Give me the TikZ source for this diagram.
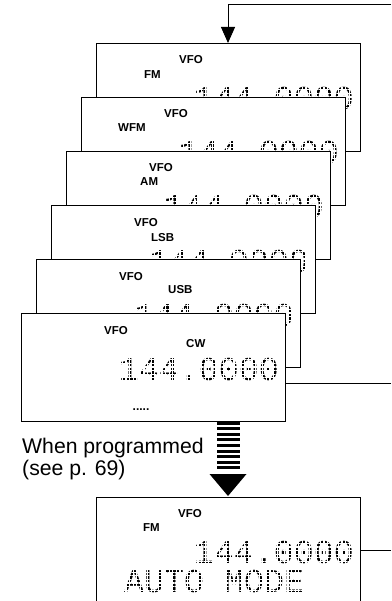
\documentclass[tikz,border=0pt]{standalone}
\usepackage{fontspec}
\setmainfont{Liberation Sans}
\newfontfamily\lcdfont{Liberation Mono}
\usetikzlibrary{arrows.meta,calc,patterns.meta}
\begin{document}
\begin{tikzpicture}[x=1pt,y=-1pt,
  panel/.style={draw, fill=white, line width=0.9pt, minimum width=264pt, minimum height=108pt, inner sep=0pt, outer sep=0pt},
  lbl/.style={font=\fontsize{11.5}{12}\selectfont\bfseries, inner sep=0pt, anchor=base west},
  lcd/.style={font=\fontsize{33.3}{34}\lcdfont, inner sep=0pt, text=black},
  dotgrid/.style={pattern={Lines[angle=0,distance=3.6pt,line width=1.1pt]}, pattern color=white},
  dotgridv/.style={pattern={Lines[angle=90,distance=3.6pt,line width=1.1pt]}, pattern color=white},
  conn/.style={line width=0.9pt},
  txt/.style={font=\fontsize{21.2}{22}\selectfont, inner sep=0pt, anchor=base west}]
\newcommand\dotify[1]{%
  \fill[dotgrid] (#1.south west) rectangle (#1.north east);
  \fill[dotgridv] (#1.south west) rectangle (#1.north east);}
\useasboundingbox (0,0) rectangle (391,601);
\clip (0,0) rectangle (391,601);

% stacked panels, back to front
\node[panel] (p1) at (228,97) {};
\node[lbl] (v1) at ($(p1.north west)+(83,21)$) {VFO};
\node[lbl] (m1) at ($(p1.north west)+(48,36)$) {FM};
\node[lcd, anchor=base east] (d1) at ($(p1.north east)+(-6,67)$) {144.0000};
\dotify{d1}

\node[panel] (p2) at (213,151) {};
\node[lbl] (v2) at ($(p2.north west)+(83,21)$) {VFO};
\node[lbl] (m2) at ($(p2.north west)+(37,35)$) {WFM};
\node[lcd, anchor=base east] (d2) at ($(p2.north east)+(-6,67)$) {144.0000};
\dotify{d2}

\node[panel] (p3) at (198,205) {};
\node[lbl] (v3) at ($(p3.north west)+(83,21)$) {VFO};
\node[lbl] (m3) at ($(p3.north west)+(74,35)$) {AM};
\node[lcd, anchor=base east] (d3) at ($(p3.north east)+(-6,67)$) {144.0000};
\dotify{d3}

\node[panel] (p4) at (183,259) {};
\node[lbl] (v4) at ($(p4.north west)+(83,21)$) {VFO};
\node[lbl] (m4) at ($(p4.north west)+(100,36)$) {LSB};
\node[lcd, anchor=base east] (d4) at ($(p4.north east)+(-6,67)$) {144.0000};
\dotify{d4}

\node[panel] (p5) at (168,313) {};
\node[lbl] (v5) at ($(p5.north west)+(83,21)$) {VFO};
\node[lbl] (m5) at ($(p5.north west)+(132,34)$) {USB};
\node[lcd, anchor=base east] (d5) at ($(p5.north east)+(-6,67)$) {144.0000};
\dotify{d5}

\node[panel] (p6) at (153,367) {};
\node[lbl] (v6) at ($(p6.north west)+(83,21)$) {VFO};
\node[lbl] (m6) at ($(p6.north west)+(165,34)$) {CW};
\node[lcd, anchor=base east] (d6) at ($(p6.north east)+(-6,67)$) {144.0000};
\dotify{d6}
\node[font=\fontsize{12}{12}\selectfont\bfseries, inner sep=0pt, anchor=base] (dots) at ($(p6.north west)+(120,97)$) {.....};

% bottom panel
\node[panel, minimum height=130pt] (p7) at (228,562) {};
\node[lbl] (v7) at ($(p7.north west)+(82,20)$) {VFO};
\node[lbl] (m7) at ($(p7.north west)+(47,34)$) {FM};
\node[lcd, anchor=base east] (d7) at ($(p7.north east)+(-6,66)$) {144.0000};
\dotify{d7}
\node[lcd, anchor=base west] (a7) at ($(p7.north west)+(28,95)$) {AUTO MODE};
\dotify{a7}

% connectors
\coordinate (inR) at (391,4);
\draw[conn, -{Triangle[width=14pt,length=16pt]}] (inR) -| (p1.north);
\coordinate (cwR) at (391,383);
\draw[conn] (cwR) -- (cwR -| p6.east);
\coordinate (amR) at (391,550);
\draw[conn] (amR) -- (amR -| p7.east);

% striped arrow
\coordinate (sTop) at (p7.north |- p6.south);
\foreach \i in {0,...,8} \fill ($(sTop)+(-11.5,0.6+5.6*\i)$) rectangle ++(23,3);
\fill ($(p7.north)+(-18.5,-23)$) -- ($(p7.north)+(18.5,-23)$) -- ($(p7.north)+(0,-1)$) -- cycle;

\node[txt] (t1) at (22,453) {When programmed};
\node[txt] (t2) at (22,475) {(see p. 69)};
\end{tikzpicture}
\end{document}
